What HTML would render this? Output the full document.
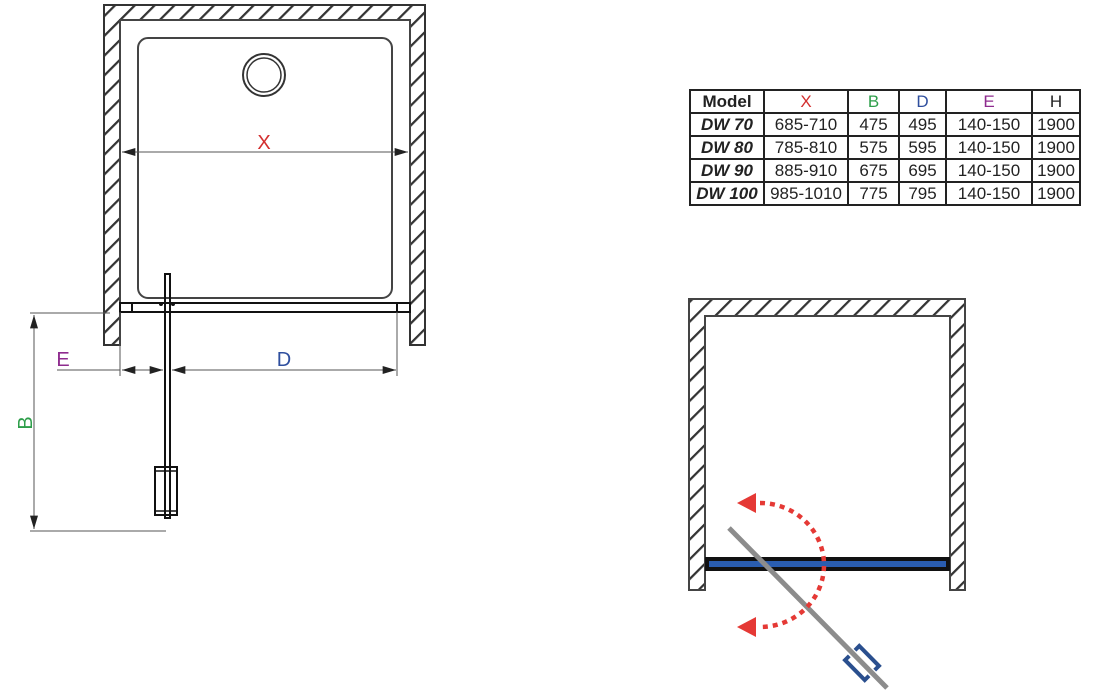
<!DOCTYPE html>
<html><head><meta charset="utf-8"><style>
body{margin:0;width:1113px;height:700px;background:#fff;overflow:hidden;font-family:"Liberation Sans",sans-serif}
table{position:absolute;left:689px;top:89px;border-collapse:collapse;font-size:17px;table-layout:fixed;width:390px}
td{border:2px solid #222;height:21px;padding:0;text-align:center;color:#222;line-height:21px;white-space:nowrap;overflow:hidden}
td.m{font-weight:bold;font-style:italic}
</style></head><body>
<svg width="1113" height="700" style="position:absolute;left:0;top:0">
<defs>
<pattern id="h" patternUnits="userSpaceOnUse" width="14" height="14" patternTransform="rotate(45)">
<rect width="14" height="14" fill="#fff"/><line x1="0" y1="0" x2="0" y2="14" stroke="#333" stroke-width="4.5"/></pattern>
<marker id="a" viewBox="0 0 10 6" refX="10" refY="3" markerWidth="15" markerHeight="8" markerUnits="userSpaceOnUse" orient="auto-start-reverse"><path d="M0,0L10,3L0,6z" fill="#222"/></marker>
</defs>
<path d="M104,5H425V345H410V20H120V345H104Z" fill="url(#h)" stroke="#333" stroke-width="2"/>
<rect x="120" y="20" width="290" height="292" fill="none" stroke="#444" stroke-width="2"/>
<rect x="138" y="38" width="254" height="260" rx="10" fill="none" stroke="#444" stroke-width="2"/>
<circle cx="264" cy="75" r="21" fill="none" stroke="#333" stroke-width="2"/>
<circle cx="264" cy="75" r="17" fill="none" stroke="#333" stroke-width="1.5"/>
<line x1="122" y1="152" x2="408" y2="152" stroke="#555" stroke-width="1" marker-start="url(#a)" marker-end="url(#a)"/>
<text x="264" y="149" font-size="20" fill="#d32f2f" text-anchor="middle">X</text>
<rect x="120" y="303" width="290" height="9" fill="none" stroke="#111" stroke-width="2"/>
<line x1="132" y1="303" x2="132" y2="312" stroke="#111" stroke-width="2"/>
<line x1="397" y1="303" x2="397" y2="312" stroke="#111" stroke-width="2"/>
<rect x="165" y="274" width="5" height="244" fill="none" stroke="#111" stroke-width="2"/>
<circle cx="161" cy="304" r="2" fill="#111"/><circle cx="173" cy="304" r="2" fill="#111"/>
<rect x="155" y="467" width="22" height="48" fill="none" stroke="#111" stroke-width="2"/>
<rect x="155" y="471" width="22" height="40" fill="none" stroke="#111" stroke-width="1.5"/>
<line x1="120" y1="312" x2="120" y2="376" stroke="#555"/>
<line x1="397" y1="312" x2="397" y2="376" stroke="#555"/>
<line x1="57" y1="370" x2="120" y2="370" stroke="#555"/>
<line x1="122" y1="370" x2="163" y2="370" stroke="#555" marker-start="url(#a)" marker-end="url(#a)"/>
<line x1="172" y1="370" x2="396" y2="370" stroke="#555" marker-start="url(#a)" marker-end="url(#a)"/>
<text x="63" y="366" font-size="20" fill="#8e2b8e" text-anchor="middle">E</text>
<text x="284" y="366" font-size="20" fill="#2f4f9e" text-anchor="middle">D</text>
<line x1="30" y1="313" x2="110" y2="313" stroke="#555"/>
<line x1="30" y1="531" x2="166" y2="531" stroke="#555"/>
<line x1="34" y1="315" x2="34" y2="529" stroke="#555" marker-start="url(#a)" marker-end="url(#a)"/>
<text x="0" y="0" font-size="20" fill="#2e9e4a" text-anchor="middle" transform="translate(32,423) rotate(-90)">B</text>
<path d="M689,299H965V590H950V316H705V590H689Z" fill="url(#h)" stroke="#444" stroke-width="2"/>
<rect x="705" y="557" width="245" height="14" fill="#111"/>
<rect x="709" y="561" width="237" height="6" fill="#2a5db0"/>
<line x1="729" y1="528" x2="887" y2="688" stroke="#8c8c8c" stroke-width="5"/>
<g transform="rotate(45.3 862 663)"><path d="M848,659V653H876V659M848,667V673H876V667" stroke="#2a4f8e" stroke-width="4" fill="none"/></g>
<path d="M760,503 A64 62 0 0 1 760,627" fill="none" stroke="#e53935" stroke-width="4.5" stroke-dasharray="5 5"/>
<path d="M737,503L756,493L756,513Z" fill="#e53935"/>
<path d="M737,627L756,617L756,637Z" fill="#e53935"/>
</svg>
<table>
<colgroup><col style="width:74px"><col style="width:84px"><col style="width:51px"><col style="width:47px"><col style="width:86px"><col style="width:48px"></colgroup>
<tr><td class="m" style="font-style:normal">Model</td><td style="color:#d32f2f">X</td><td style="color:#2e9e4a">B</td><td style="color:#2f4f9e">D</td><td style="color:#8e2b8e">E</td><td>H</td></tr>
<tr><td class="m">DW 70</td><td>685-710</td><td>475</td><td>495</td><td>140-150</td><td>1900</td></tr>
<tr><td class="m">DW 80</td><td>785-810</td><td>575</td><td>595</td><td>140-150</td><td>1900</td></tr>
<tr><td class="m">DW 90</td><td>885-910</td><td>675</td><td>695</td><td>140-150</td><td>1900</td></tr>
<tr><td class="m">DW 100</td><td>985-1010</td><td>775</td><td>795</td><td>140-150</td><td>1900</td></tr>
</table>
</body></html>
